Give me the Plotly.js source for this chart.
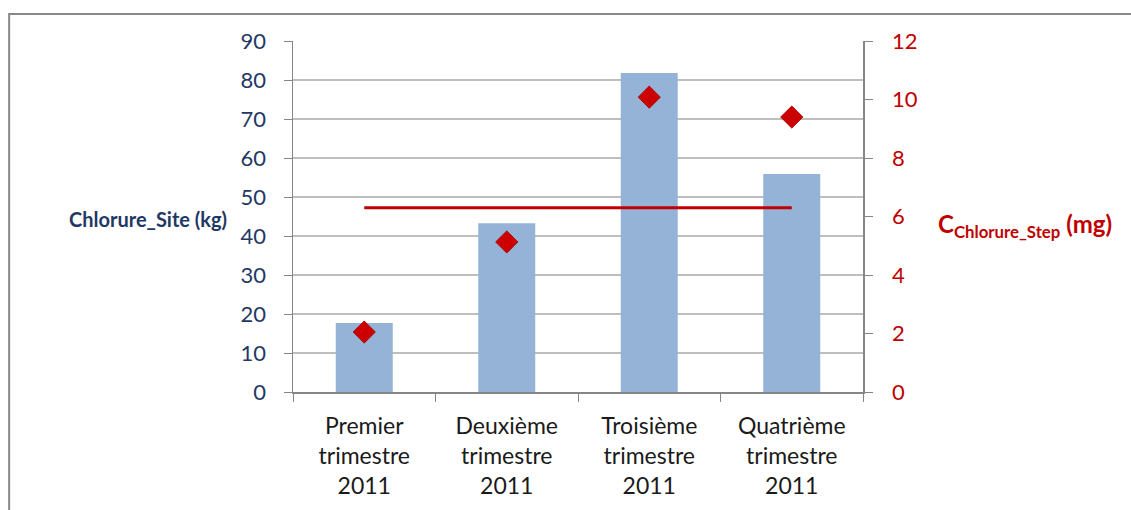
<!DOCTYPE html>
<html>
<head>
<meta charset="utf-8">
<script src="https://cdn.plot.ly/plotly-3.0.1.min.js"></script>
<style>html,body{margin:0;padding:0;background:#fff;}#chart{width:1131px;height:510px;}</style>
</head>
<body>
<div id="chart"></div>
<script>
const categories = ["Premier<br>trimestre<br>2011", "Deuxième<br>trimestre<br>2011", "Troisième<br>trimestre<br>2011", "Quatrième<br>trimestre<br>2011"];
const chlorureSite = [17.7, 43.3, 81.8, 55.9];
const chlorureStep = [2.05, 5.13, 10.08, 9.4];
const seuil = [6.3, 6.3, 6.3, 6.3];

const FONT = "Lato, Calibri, sans-serif";
const NAVY = "#1F3864";
const RED = "#C00000";

const traces = [
  {type: "bar", x: categories, y: chlorureSite, marker: {color: "#95B3D7"}, width: 0.4, yaxis: "y", name: "Chlorure_Site"},
  {type: "scatter", mode: "lines", x: categories, y: seuil, line: {color: RED, width: 3}, yaxis: "y2", name: "Seuil"},
  {type: "scatter", mode: "markers", x: categories, y: chlorureStep, marker: {symbol: "diamond", size: 17, color: "#CC0000", line: {color: "#B00000", width: 1}}, yaxis: "y2", name: "C_Chlorure_Step"}
];

const layout = {
  width: 1131, height: 510,
  margin: {l: 293, r: 268, t: 41, b: 118},
  paper_bgcolor: "#fff", plot_bgcolor: "#fff",
  showlegend: false,
  font: {family: FONT},
  xaxis: {
    type: "category", showline: true, linecolor: "#868686", linewidth: 1.5,
    ticks: "outside", tickson: "boundaries", ticklen: 8, tickcolor: "#868686",
    tickfont: {size: 23, color: "#1a1a1a", family: FONT}, showgrid: false, zeroline: false,
    ticklabelstandoff: 13
  },
  yaxis: {
    range: [0, 90], dtick: 10, showline: true, linecolor: "#868686", linewidth: 1.5,
    ticks: "outside", ticklen: 8, tickcolor: "#868686",
    showgrid: true, gridcolor: "#BEBEBE", gridwidth: 1.5, zeroline: false,
    tickfont: {size: 22, color: NAVY, family: FONT}, ticklabelstandoff: 13
  },
  yaxis2: {
    overlaying: "y", side: "right", range: [0, 12], dtick: 2,
    showline: true, linecolor: "#868686", linewidth: 1.5,
    ticks: "outside", ticklen: 8, tickcolor: "#868686",
    showgrid: false, zeroline: false,
    tickfont: {size: 22, color: RED, family: FONT}, ticklabelstandoff: 15
  },
  annotations: [
    {xref: "paper", yref: "paper", x: -0.255, y: 0.493, xanchor: "center", yanchor: "middle", showarrow: false,
     text: "<b>Chlorure_Site (kg)</b>", font: {size: 20, color: NAVY, family: FONT}},
    {xref: "paper", yref: "paper", x: 1.285, y: 0.475, xanchor: "center", yanchor: "middle", showarrow: false,
     text: "<b>C<sub>Chlorure_Step</sub> (mg)</b>", font: {size: 24, color: RED, family: FONT}}
  ],
  shapes: [
    {type: "rect", xref: "paper", yref: "paper", x0: -0.498, x1: 1.7, y0: -0.6, y1: 1.077,
     line: {color: "#898989", width: 2}, fillcolor: "rgba(0,0,0,0)", layer: "below"}
  ]
};

Plotly.newPlot("chart", traces, layout, {displayModeBar: false, staticPlot: true});
</script>
</body>
</html>
